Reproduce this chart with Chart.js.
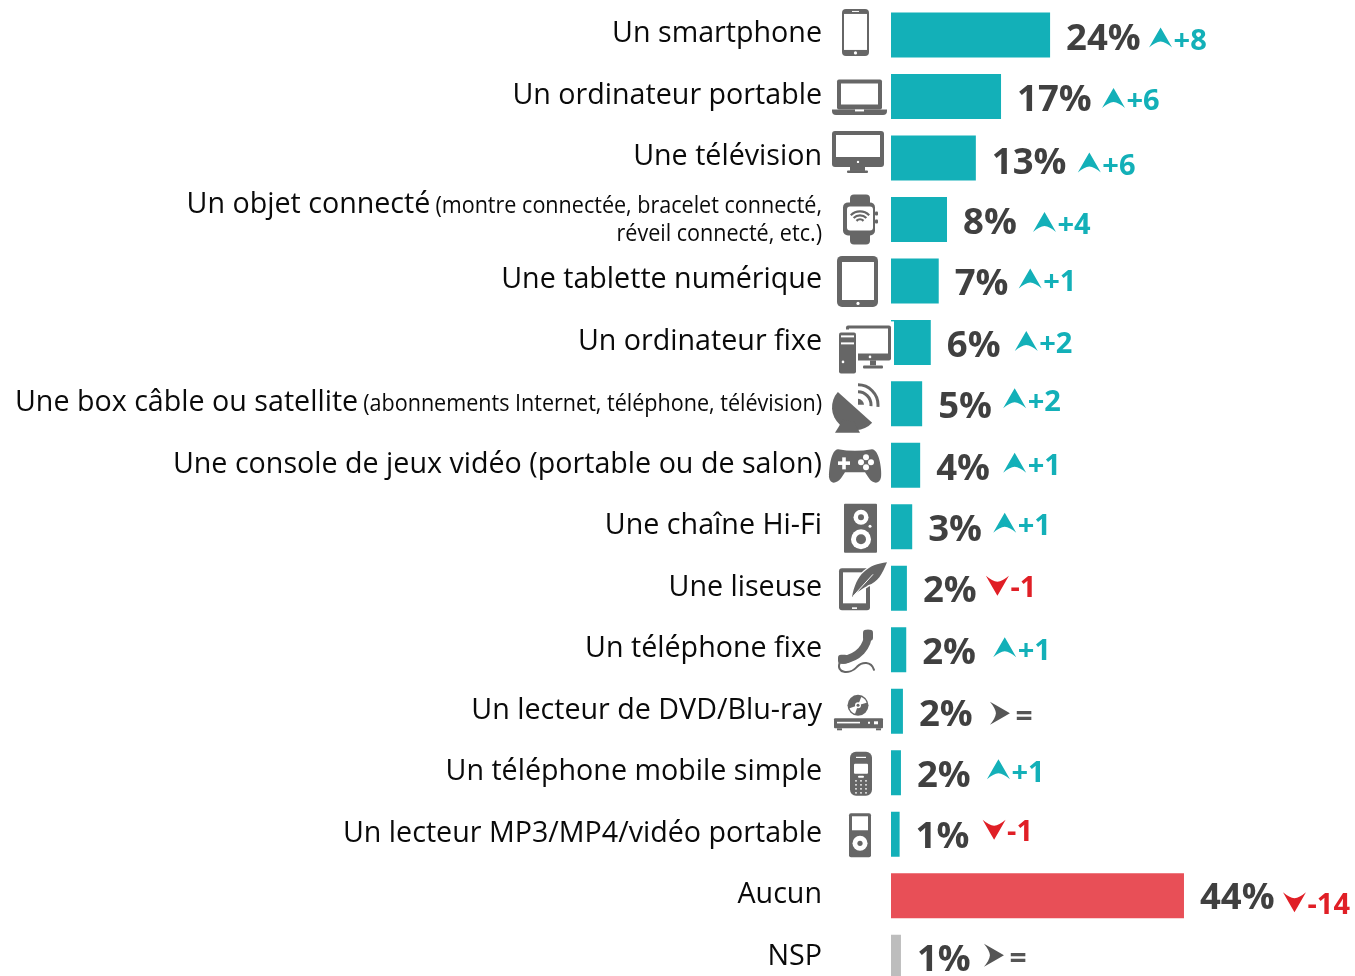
<!DOCTYPE html>
<html lang="fr"><head><meta charset="utf-8"><title>Équipements</title>
<style>html,body{margin:0;padding:0;background:#fff;overflow:hidden;width:1355px;height:976px}#w{width:1355px;height:976px;overflow:hidden}canvas{display:block}</style>
<script src="https://cdn.jsdelivr.net/npm/chart.js@4"></script></head>
<body><div id="w"><canvas id="c" width="1355" height="988"></canvas></div>
<script>
const categories=["Un smartphone","Un ordinateur portable","Une télévision","Un objet connecté","Une tablette numérique","Un ordinateur fixe","Une box câble ou satellite","Une console de jeux vidéo (portable ou de salon)","Une chaîne Hi-Fi","Une liseuse","Un téléphone fixe","Un lecteur de DVD/Blu-ray","Un téléphone mobile simple","Un lecteur MP3/MP4/vidéo portable","Aucun","NSP"];
const categoryNotes=["","","",["(montre connectée, bracelet connecté,","réveil connecté, etc.)"],"","",["(abonnements Internet, téléphone, télévision)"],"","","","","","","","",""];
const barLengths=[24,16.6,12.8,8.45,7.2,6,4.7,4.4,3.2,2.4,2.3,1.8,1.5,1.3,44.2,1.5];
const valueLabels=["24%","17%","13%","8%","7%","6%","5%","4%","3%","2%","2%","2%","2%","1%","44%","1%"];
const trends=[8,6,6,4,1,2,2,1,1,-1,1,0,1,-1,-14,0];

// annotation placement (not data): gap after value label start, vertical nudges
const trendGap=[83,85,86,70,64,68,65,67,65,63,71,69,70,67,83,65];
const trendDy=[3,2,5,3,-2,-1,-5,-2,-3.5,-3,-2,2,-3,-5,6,-2];
const valueDy=[15.5,15,16,15,14,14.5,14,15,14.5,13.5,14,15,14.5,14,13,14];
const TEAL="#13b0b8",RED="#e84f57",GREY="#bdbdbd",DARK="#404040",TDOWN="#e01f26",TEQ="#555555",ICON="#666666",W="#ffffff",BLACK="#0a0a0a";
const barColors=categories.map((_,i)=>i<14?TEAL:(i===14?RED:GREY));
const FONT='"Open Sans"',STRETCH=0.955,NOTE_STRETCH=0.898;

function R(c,x,y,w,h,r,col){c.fillStyle=col;c.beginPath();c.roundRect(x,y,w,h,r);c.fill();}
function O(c,x,y,r,col){c.fillStyle=col;c.beginPath();c.arc(x,y,r,0,Math.PI*2);c.fill();}
function A(c,x,y,r,a0,a1,lw,col){c.strokeStyle=col;c.lineWidth=lw;c.beginPath();c.arc(x,y,r,a0,a1);c.stroke();}
const PI=Math.PI,G=ICON;
const icons=[
c=>{R(c,-18,-26,27,47,4,G);R(c,-16,-21,23,36,0,W);O(c,-4.5,18,1.6,W);R(c,-8,-24,7,1,0,W);},
c=>{R(c,-23,-17,45,30,2,G);R(c,-19,-13,37,21,0,W);R(c,-28,13,55,5.5,[0,0,4,4],G);R(c,-5,13,9,2,0,W);},
c=>{R(c,-28,-27,52,36,3,G);R(c,-24,-23,44,22,0,W);O(c,-2,4,1.2,W);R(c,-10,9,15,4,0,G);R(c,-13,12.5,21,2.5,1,G);},
c=>{R(c,-10,-25,20,50,4,G);R(c,-17,-17,32,33,5,G);R(c,-13,-13,26,24,3,W);R(c,15,-8,3,4,1,G);R(c,15,0,3,4,1,G);
 A(c,0,5,13,PI*1.25,PI*1.75,2.2,G);A(c,0,5,9,PI*1.25,PI*1.75,2.2,G);A(c,0,5,5,PI*1.25,PI*1.75,2.2,G);},
c=>{R(c,-23,-25,41,51,5,G);R(c,-18,-19,32,38,0,W);O(c,-2,22.5,1.6,W);},
c=>{R(c,30,-21,4,46,0,W);R(c,-14,-17,45,35,2,G);R(c,-11,-14,39,25,0,W);O(c,10,14.5,1.3,W);R(c,10,18,6,5,0,G);R(c,3,23,20,3,1,G);
 R(c,-24,-13,22,46,0,W);R(c,-21,-10,17,41,2,G);R(c,-19,-7,13,2,0,W);R(c,-19,0,13,2,0,W);O(c,-17,19.5,1.3,W);},
c=>{c.fillStyle=G;c.beginPath();c.arc(-5,3.5,23,0.73,0.73+PI);c.closePath();c.fill();
 c.beginPath();c.moveTo(-25,29);c.lineTo(-17,16);c.lineTo(-6,18);c.lineTo(0,29);c.closePath();c.fill();
 A(c,-2,1,20,-PI/2,0.1,3,G);A(c,-2,1,13,-PI/2,0.1,3,G);
 c.fillStyle=G;c.beginPath();c.moveTo(-2,1);c.arc(-2,1,6,-PI/2,0);c.closePath();c.fill();},
c=>{c.fillStyle=G;c.beginPath();c.moveTo(-22,-16);c.quadraticCurveTo(-5,-13,12,-16);c.bezierCurveTo(19,-16,22,4,21,12);c.bezierCurveTo(20,19,13,19,9,13);c.lineTo(5,7);c.lineTo(-15,7);c.lineTo(-19,13);c.bezierCurveTo(-24,19,-30,19,-31,12);c.bezierCurveTo(-31,4,-29,-16,-22,-16);c.fill();
 R(c,-22,-4,12,3.6,0,W);R(c,-17.8,-8,3.6,12,0,W);O(c,6,-8,3,W);O(c,6,2,3,W);O(c,1,-3,3,W);O(c,11,-3,3,W);},
c=>{R(c,-16,-23,33,49,1,G);O(c,1,-9.6,7.5,W);O(c,1,-9.6,3,G);O(c,1,12.4,10,W);O(c,1,12.4,5,G);O(c,10,-.6,1.5,W);},
c=>{R(c,-21,-20,31,42,3,G);R(c,-17,-16,23,31,0,W);R(c,-8,19,5,1.6,0,W);
 const f=new Path2D("M-8 9C-4-14 8-24 27-26C22-14 18-6 8-3C4 0-3 3-8 9Z");c.strokeStyle=W;c.lineWidth=3;c.stroke(f);c.fillStyle=G;c.fill(f);
 c.strokeStyle=W;c.lineWidth=1;c.beginPath();c.moveTo(-7,8);c.lineTo(13,-14);c.stroke();},
c=>{c.strokeStyle=G;c.lineCap="round";c.lineWidth=8;c.beginPath();c.moveTo(8,-16);c.bezierCurveTo(8,-3,-2,8,-17,10);c.stroke();
 R(c,3,-20,10,11,3,G);R(c,-22,5,10,9,3,G);
 c.lineWidth=2;c.beginPath();c.moveTo(-20,12);c.bezierCurveTo(-25,24,-10,25,-3,17);c.bezierCurveTo(2,12,11,11,14,20);c.stroke();c.lineCap="butt";},
c=>{O(c,-2,-6,10.5,G);c.fillStyle=W;c.beginPath();c.moveTo(-2,-6);c.arc(-2,-6,9,-1.2,-.3);c.closePath();c.fill();c.beginPath();c.moveTo(-2,-6);c.arc(-2,-6,9,1.9,2.8);c.closePath();c.fill();O(c,-2,-6,3,W);O(c,-2,-6,1.5,G);
 R(c,-26,7,49,10,1,G);R(c,-23,10.5,23,1.6,0,W);R(c,8,10.5,2,2,0,W);R(c,14,10,4,3,0,W);R(c,-23,17,5,2,0,G);R(c,16,17,5,2,0,G);},
c=>{R(c,-10,-21,22,44,6,G);R(c,-6,-9,14,10,1,W);R(c,-4,-16,10,1.2,0,W);R(c,-2,3,6,2,1,W);
 [-4,1,6].forEach(x=>[8,12,16,20].forEach(y=>O(c,x,y,.9,W)));},
c=>{R(c,-11,-21,22,44,2,G);R(c,-8,-18,16,14,0,W);O(c,0,9,7.5,W);O(c,0,9,2.6,G);}
];
function arrow(c,x,y,dir,col){c.save();c.translate(x,y);c.rotate(dir*PI/2);c.fillStyle=col;c.beginPath();c.moveTo(0,-10.5);c.quadraticCurveTo(5,-2,11.5,9.5);c.quadraticCurveTo(5,4,0,3.5);c.quadraticCurveTo(-5,4,-11.5,9.5);c.quadraticCurveTo(-5,-2,0,-10.5);c.closePath();c.fill();c.restore();}
function sx(c,txt,x,y,s,font,col){c.save();c.font=font;c.fillStyle=col;c.textAlign="right";c.textBaseline="alphabetic";c.translate(x,y);c.scale(s,1);c.fillText(txt,0,0);c.restore();}

const overlay={id:"overlay",afterDatasetsDraw(chart){
 const c=chart.ctx,xs=chart.scales.x,ys=chart.scales.y;
 const TEXT_R=822,ICON_X=860;
 categories.forEach((name,i)=>{
  const cy=ys.getPixelForValue(i),ex=xs.getPixelForValue(barLengths[i]);
  const main='30px '+FONT,small='24px '+FONT,note=categoryNotes[i];
  const base=cy+7.5;
  if(note){
   if(note.length===2){
    sx(c,note[0],TEXT_R,cy-6,NOTE_STRETCH,small,BLACK);
    sx(c,note[1],TEXT_R,cy+22,NOTE_STRETCH,small,BLACK);
   }else sx(c,note[0],TEXT_R,base,NOTE_STRETCH,small,BLACK);
   c.font=small;const w=c.measureText(note[0]).width*NOTE_STRETCH;
   sx(c,name,TEXT_R-w-5,note.length===2?cy-6:base,STRETCH,main,BLACK);
  }else sx(c,name,TEXT_R,base,STRETCH,main,BLACK);
  if(icons[i]){c.save();c.translate(ICON_X,cy);icons[i](c);c.restore();}
  const vx=ex+16;
  c.font='700 36.5px '+FONT;c.fillStyle=DARK;c.textAlign="left";c.textBaseline="alphabetic";
  c.fillText(valueLabels[i],vx,cy+valueDy[i]);
  const t=trends[i],ax=vx+trendGap[i]+11.5,ay=cy+trendDy[i];
  const dir=t>0?0:(t<0?2:1),col=t>0?TEAL:(t<0?TDOWN:TEQ);
  arrow(c,ax,ay,dir,col);
  const txt=t>0?"+"+t:(t<0?"-"+Math.abs(t):"=");
  c.font=(t===0?'700 30px ':'700 29px ')+FONT;c.fillStyle=col;c.textAlign="left";
  c.fillText(txt,ax+(t===0?16:13),ay+(t===0?13:12));
 });
}};
new Chart(document.getElementById("c"),{type:"bar",
 data:{labels:categories,datasets:[{data:barLengths,backgroundColor:barColors,borderWidth:0,barPercentage:.732,categoryPercentage:1}]},
 options:{indexAxis:"y",responsive:false,animation:false,
  layout:{padding:{left:891,right:0,top:4.2,bottom:0}},
  plugins:{legend:{display:false},tooltip:{enabled:false}},
  scales:{x:{display:false,min:0,max:70},y:{display:false}}},
 plugins:[overlay]});
</script></body></html>
